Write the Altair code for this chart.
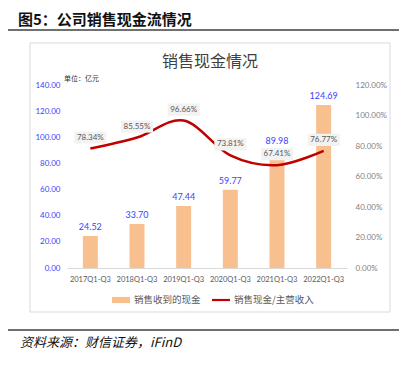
import altair as alt
import pandas as pd

periods = ["2017Q1-Q3", "2018Q1-Q3", "2019Q1-Q3", "2020Q1-Q3", "2021Q1-Q3", "2022Q1-Q3"]
cash = [24.52, 33.70, 47.44, 59.77, 89.98, 124.69]
ratio_pct = [78.34, 85.55, 96.66, 73.81, 67.41, 76.77]
series_names = ["销售收到的现金", "销售现金/主营收入"]
series_colors = ["#F8C08E", "#C00000"]
left_ticks = [0, 20, 40, 60, 80, 100, 120, 140]
right_ticks = [0, 0.2, 0.4, 0.6, 0.8, 1.0, 1.2]

df = pd.DataFrame({
    "period": periods,
    "cash": cash,
    "ratio": [r / 100 for r in ratio_pct],
})

CJK = "Noto Sans CJK SC"
NUM = "Lato"

BAR_PATH = "M-1,-0.34L1,-0.34L1,0.34L-1,0.34Z"
LINE_PATH = "M-1,-0.12L1,-0.12L1,0.12L-1,0.12Z"
BOX_PATH = "M-1,-0.38L1,-0.38L1,0.38L-1,0.38Z"


def make_legend(x, shape, fill=None):
    kw = dict(
        orient="none", legendX=x, legendY=206, direction="horizontal", title=None,
        labelFont=CJK, labelFontSize=9.5, labelColor="#595959", symbolSize=324,
        symbolType=shape, symbolStrokeWidth=0, symbolOpacity=1, labelOffset=4, padding=0,
    )
    if fill:
        kw["symbolFillColor"] = fill
    return alt.Legend(**kw)


x_enc = alt.X("period:N", sort=periods, title=None, scale=alt.Scale(paddingInner=0.3, paddingOuter=0.15),
              axis=alt.Axis(labelAngle=0, labelFont=NUM, labelFontSize=7.5, labelColor="#595959",
                            ticks=False, domainColor="#D9D9D9", labelPadding=7))

left_axis = alt.Axis(values=left_ticks, format=".2f", labelFont=NUM, labelFontSize=8, labelColor="#4040FF",
                     ticks=False, domain=False, grid=False, labelPadding=7, title=None)
right_axis = alt.Axis(values=right_ticks, format=".2%", orient="right", labelFont=NUM, labelFontSize=8,
                      labelColor="#7F7F7F", ticks=False, domain=False, grid=False, labelPadding=8, title=None)

y_left = alt.Y("cash:Q", scale=alt.Scale(domain=[0, 140]), axis=left_axis)
y_right = alt.Y("ratio:Q", scale=alt.Scale(domain=[0, 1.2]), axis=right_axis)

base = alt.Chart(df)

bars = base.transform_calculate(s="'销售收到的现金'").mark_bar(size=15).encode(
    x=x_enc, y=y_left,
    fill=alt.Fill("s:N", scale=alt.Scale(domain=series_names[:1], range=series_colors[:1]),
                  legend=make_legend(45, BAR_PATH)),
)
bar_text = base.mark_text(dy=-9, font=NUM, fontSize=9, color="#4040FF").encode(
    x=x_enc, y=y_left, text=alt.Text("cash:Q", format=".2f"),
)
left_group = alt.layer(bars, bar_text)

line = base.transform_calculate(s="'销售现金/主营收入'").mark_line(interpolate="cardinal", strokeWidth=2.5).encode(
    x=x_enc, y=y_right,
    stroke=alt.Stroke("s:N", scale=alt.Scale(domain=series_names[1:], range=series_colors[1:]),
                      legend=make_legend(145, LINE_PATH, "#C00000")),
)
boxes = base.mark_point(shape=BOX_PATH, size=1024, filled=True, color="#F2F2F2", opacity=1, yOffset=-11).encode(
    x=x_enc, y=y_right,
)
pct_text = base.mark_text(yOffset=-11, font=NUM, fontSize=8, color="#595959").encode(
    x=x_enc, y=y_right, text=alt.Text("ratio:Q", format=".2%"),
)
right_group = alt.layer(line, boxes, pct_text)


# decorations (page furniture)
def txt(t, x, y, **kw):
    return alt.Chart(pd.DataFrame({"t": [t]})).mark_text(**kw).encode(
        x=alt.value(x), y=alt.value(y), text="t:N")


def rule(x, x2, y, **kw):
    return alt.Chart(pd.DataFrame({"a": [0]})).mark_rule(**kw).encode(
        x=alt.value(x), x2=alt.value(x2), y=alt.value(y))


frame = alt.Chart(pd.DataFrame({"a": [0]})).mark_rect(fill=None, stroke="#D9D9D9", strokeWidth=1).encode(
    x=alt.value(-37), x2=alt.value(323), y=alt.value(-42), y2=alt.value(227))

header = txt("图5：公司销售现金流情况", -49, -65, font=CJK, fontSize=15, fontWeight="bold",
             align="left", baseline="middle", color="#111111")
header_rule = rule(-59, 343, -55, color="#404040", strokeWidth=1.5)
chart_title = txt("销售现金情况", 143, -23, font=CJK, fontSize=16, align="center", baseline="middle", color="#404040")
unit = txt("单位：亿元", -3, -6, font=CJK, fontSize=7, align="left", baseline="middle", color="#333333")
foot_rule = rule(-59, 343, 245, color="#404040", strokeWidth=1.5)
source = txt("资料来源：财信证券，iFinD", -47, 258, font=CJK, fontSize=13, fontStyle="italic",
             align="left", baseline="middle", color="#111111")

main = alt.layer(left_group, right_group).resolve_scale(y="independent")

chart = alt.layer(frame, header, header_rule, chart_title, unit, foot_rule, source, main).resolve_scale(
    y="independent"
).properties(
    width=280, height=183,
    autosize=alt.AutoSizeParams(type="none"),
    padding={"left": 59, "top": 77, "right": 52, "bottom": 90},
).configure_view(stroke=None)

chart.save("out.html", embed_options={"renderer": "svg", "actions": False})
